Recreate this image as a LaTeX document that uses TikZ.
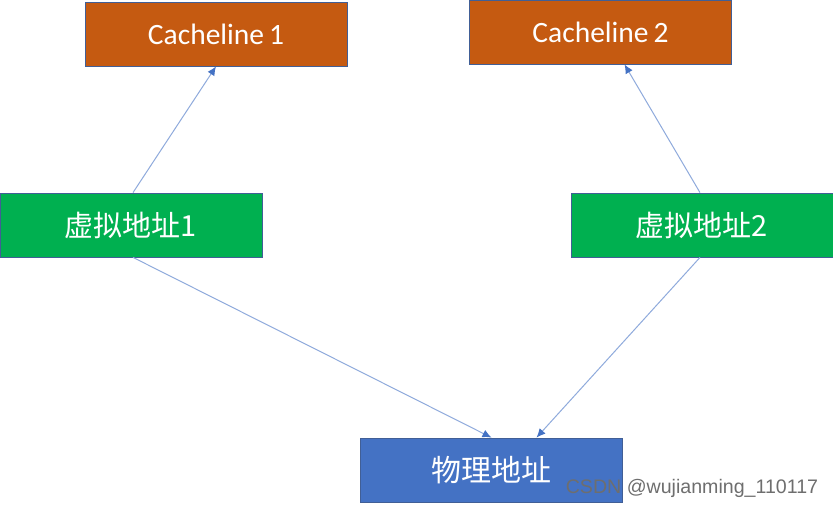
\documentclass[tikz,border=0pt]{standalone}
\usepackage{fontspec}
\setmainfont{Carlito}
\newfontfamily\cjk{Noto Sans CJK SC}
\newfontfamily\wm{Liberation Sans}
\usetikzlibrary{arrows.meta,calc}
\definecolor{orangebox}{RGB}{197,90,17}
\definecolor{greenbox}{RGB}{0,176,80}
\definecolor{bluebox}{RGB}{68,114,196}
\definecolor{edgeline}{RGB}{65,95,150}
\definecolor{arrowline}{RGB}{143,170,220}
\definecolor{arrowhead}{RGB}{68,114,196}
\begin{document}
\begin{tikzpicture}[x=1pt,y=-1pt,
  box/.style={draw=edgeline,line width=0.8pt,minimum width=262pt,minimum height=64pt,inner sep=0pt,text=white},
  cache/.style={box,fill=orangebox,font=\fontsize{29.5}{34}\selectfont},
  virt/.style={box,fill=greenbox,font=\cjk\fontsize{29}{34}\selectfont},
  phys/.style={box,fill=bluebox,font=\cjk\fontsize{30}{34}\selectfont},
  conn/.style={draw=arrowline,line width=1pt,-{Latex[length=9pt,width=8pt,color=arrowhead]}}]
\useasboundingbox[fill=white] (0,0) rectangle (833,508);
\node[cache] (c1) at (216,34) {Cacheline\,1};
\node[cache] (c2) at (600.5,32) {Cacheline\,2};
\node[virt] (v1) at (131,225) {虚拟地址1};
\node[virt] (v2) at (702,225) {虚拟地址2};
\node[phys] (p) at (491.5,470) {物理地址};
\node[font=\wm\fontsize{19.6}{22}\selectfont,text={rgb,255:red,110;green,110;blue,110},inner sep=0pt] (w) at (692,488) {CSDN @wujianming\_110117};
\draw[conn] ($(v1.north)+(2,0)$) -- (c1.south);
\draw[conn] ($(v2.north)+(-2,0)$) -- ($(c2.south)+(24,0)$);
\draw[conn] ($(v1.south)+(2,0)$) -- (p.north);
\draw[conn] ($(v2.south)+(-2,0)$) -- ($(p.north)+(45,0)$);
\end{tikzpicture}
\end{document}
